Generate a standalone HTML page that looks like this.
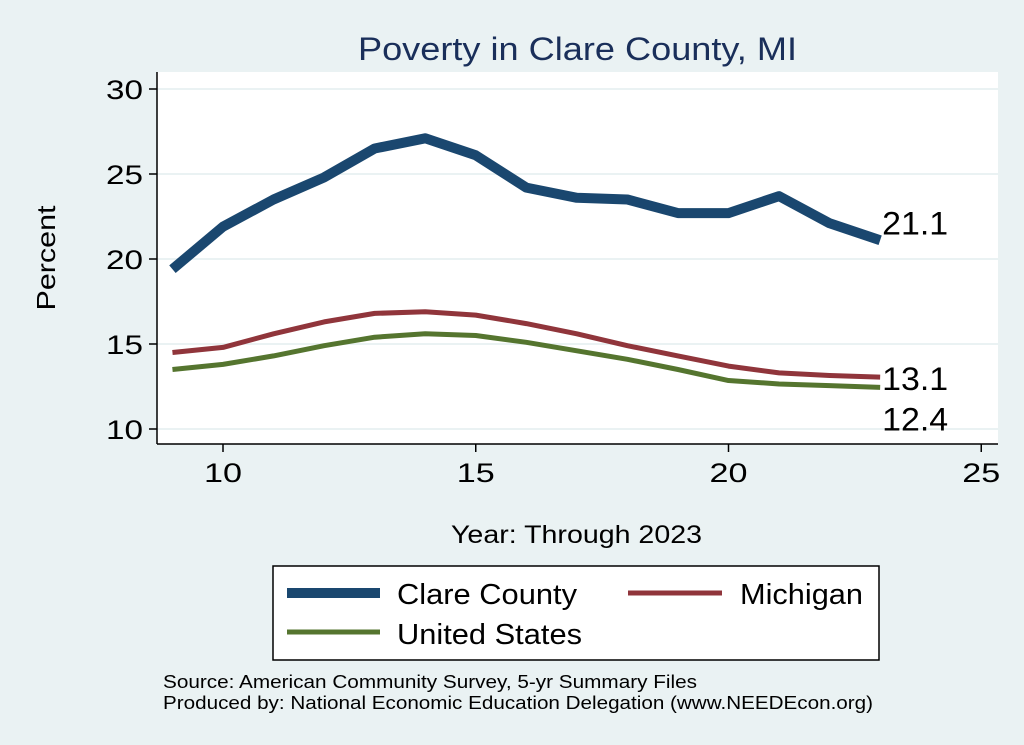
<!DOCTYPE html>
<html><head><meta charset="utf-8"><style>
body{margin:0;background:#eaf2f3;}
svg{display:block;font-family:"Liberation Sans",sans-serif;}
</style></head><body>
<svg id="c" width="1024" height="745">
<rect x="0" y="0" width="1024" height="745" fill="#eaf2f3"/>
<rect x="157" y="72" width="841" height="372" fill="#fff"/>
<text x="358" y="60" font-size="32" fill="#1a2f5a" textLength="439" lengthAdjust="spacingAndGlyphs">Poverty in Clare County, MI</text>
<g id="grid"></g>
<g id="axes"></g>
<g id="series"></g>
<text x="55" y="258" font-size="26" text-anchor="middle" textLength="105" lengthAdjust="spacingAndGlyphs" transform="rotate(-90 55 258)">Percent</text>
<text x="451" y="543" font-size="25" textLength="251" lengthAdjust="spacingAndGlyphs">Year: Through 2023</text>
<g>
<rect x="273" y="566" width="606" height="94" fill="#fff" stroke="#000" stroke-width="1.5"/>
<line x1="287" y1="593" x2="380" y2="593" stroke="#1a476f" stroke-width="10"/>
<text x="397" y="604" font-size="29" textLength="180" lengthAdjust="spacingAndGlyphs">Clare County</text>
<line x1="628" y1="593" x2="722" y2="593" stroke="#90353b" stroke-width="5"/>
<text x="740" y="604" font-size="29" textLength="123" lengthAdjust="spacingAndGlyphs">Michigan</text>
<line x1="287" y1="632" x2="380" y2="632" stroke="#55752f" stroke-width="5"/>
<text x="397" y="644" font-size="29" textLength="185" lengthAdjust="spacingAndGlyphs">United States</text>
</g>
<text x="163" y="688" font-size="18" textLength="534" lengthAdjust="spacingAndGlyphs">Source: American Community Survey, 5-yr Summary Files</text>
<text x="163" y="709" font-size="18" textLength="710" lengthAdjust="spacingAndGlyphs">Produced by: National Economic Education Delegation (www.NEEDEcon.org)</text>
</svg>
<script>
const years=[9,10,11,12,13,14,15,16,17,18,19,20,21,22,23];
const clare=[19.4,21.9,23.5,24.8,26.5,27.1,26.1,24.2,23.6,23.5,22.7,22.7,23.7,22.1,21.1];
const michigan=[14.5,14.8,15.6,16.3,16.8,16.9,16.7,16.2,15.6,14.9,14.3,13.7,13.3,13.15,13.05];
const us=[13.5,13.8,14.3,14.9,15.4,15.6,15.5,15.1,14.6,14.1,13.5,12.85,12.65,12.55,12.45];
const xTicks=[10,15,20,25];
const yTicks=[10,15,20,25,30];
const endLabels=["21.1","13.1","12.4"];
const NS="http://www.w3.org/2000/svg";
const X=v=>223+(v-10)*50.55, Y=v=>429-(v-10)*17;
function mk(t,a,p){const e=document.createElementNS(NS,t);for(const k in a)e.setAttribute(k,a[k]);p.appendChild(e);return e;}
const grid=document.getElementById('grid'),axes=document.getElementById('axes'),ser=document.getElementById('series');
yTicks.forEach(v=>{
 const g=mk('line',{x1:157,x2:998,y1:Y(v),y2:Y(v),stroke:'#eaf2f3','stroke-width':2},grid);
 
 
 const t=mk('line',{x1:149,x2:157,y1:Y(v),y2:Y(v),stroke:'#000','stroke-width':1.5},axes);
 
 
 const l=mk('text',{x:143,y:Y(v)+10,'font-size':27,'text-anchor':'end',textLength:37,lengthAdjust:'spacingAndGlyphs'},axes);l.textContent=v;
 
 
});
xTicks.forEach(v=>{
 const t=mk('line',{x1:X(v),x2:X(v),y1:444,y2:452,stroke:'#000','stroke-width':1.5},axes);
 
 
 const l=mk('text',{x:X(v),y:482,'font-size':27,'text-anchor':'middle',textLength:38,lengthAdjust:'spacingAndGlyphs'},axes);l.textContent=v;
 
 
});
const ya=mk('line',{x1:157,x2:157,y1:72,y2:444,stroke:'#000','stroke-width':1.5},axes);


const xa=mk('line',{x1:157,x2:998,y1:444,y2:444,stroke:'#000','stroke-width':1.5},axes);


function line(d,c,w,name){
 const p=mk('polyline',{points:years.map((y,i)=>X(y)+','+Y(d[i])).join(' '),fill:'none',stroke:c,'stroke-width':w,'stroke-linejoin':'round'},ser);
 
 
}
line(us,'#55752f',5,'line-united-states');
line(michigan,'#90353b',5,'line-michigan');
line(clare,'#1a476f',10,'line-clare-county');
const n=years.length-1;
[[clare,-6],[michigan,13],[us,43]].forEach((s,i)=>{
 const l=mk('text',{x:X(years[n])+2,y:Y(s[0][n])+s[1],'font-size':32,textLength:66,lengthAdjust:'spacingAndGlyphs'},ser);l.textContent=endLabels[i];
 
 
});
</script>
</body></html>
